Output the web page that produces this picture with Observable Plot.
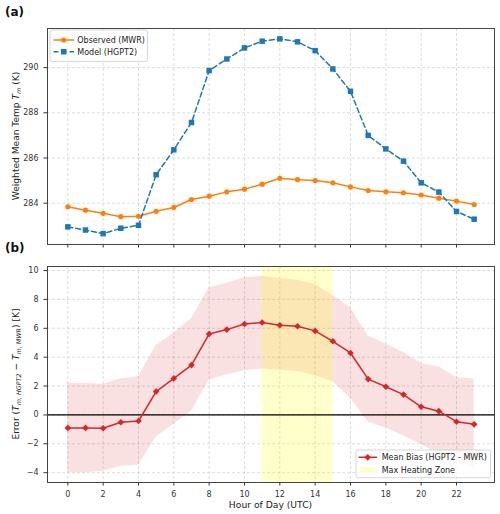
<!DOCTYPE html>
<html>
<head>
<meta charset="utf-8">
<script src="https://cdn.jsdelivr.net/npm/d3@7"></script>
<script src="https://cdn.jsdelivr.net/npm/@observablehq/plot@0.6"></script>
<style>
  html, body { margin: 0; padding: 0; background: #fff; }
  #fig { position: relative; width: 500px; height: 514px; font-family: "DejaVu Sans", sans-serif; }
  #fig svg { position: absolute; left: 0; overflow: visible; }
  .tag { position: absolute; left: 5px; font: bold 12px "DejaVu Sans", sans-serif; color: #111; line-height: 1; }
</style>
</head>
<body>
<div id="fig"></div>
<script>
// Hour of day (UTC)
const hours = [0, 1, 2, 3, 4, 5, 6, 7, 8, 9, 10, 11, 12, 13, 14, 15, 16, 17, 18, 19, 20, 21, 22, 23];

// Weighted mean temperature Tm (K)
const observedMWR = [283.84, 283.69, 283.55, 283.40, 283.42, 283.64, 283.81, 284.16, 284.31, 284.50, 284.62, 284.84,
                     285.10, 285.04, 285.00, 284.90, 284.72, 284.56, 284.50, 284.46, 284.36, 284.22, 284.09, 283.94];
const modelHGPT2 = [282.95, 282.81, 282.65, 282.89, 283.02, 285.26, 286.36, 287.57, 289.87, 290.38, 290.87, 291.17,
                    291.27, 291.14, 290.75, 289.94, 288.95, 287.00, 286.40, 285.86, 284.90, 284.49, 283.63, 283.29];

// Mean bias HGPT2 - MWR (K) and its spread
const meanBias = [-0.90, -0.90, -0.92, -0.51, -0.42, 1.62, 2.53, 3.45, 5.61, 5.91, 6.30, 6.40,
                  6.21, 6.14, 5.82, 5.10, 4.29, 2.48, 1.95, 1.41, 0.56, 0.26, -0.47, -0.65];
const biasUpper = [2.20, 2.17, 2.13, 2.50, 2.64, 4.80, 5.66, 6.66, 8.80, 9.12, 9.50, 9.60,
                   9.43, 9.32, 9.04, 8.28, 7.42, 5.47, 4.92, 4.33, 3.56, 3.34, 2.60, 2.48];
const biasLower = [-4.00, -4.00, -3.90, -3.55, -3.48, -1.53, -0.65, 0.28, 2.41, 2.78, 3.06, 3.18,
                   3.10, 3.01, 2.71, 2.30, 1.15, -0.50, -0.88, -1.46, -2.04, -2.70, -3.30, -3.75];

// Max heating zone (UTC hours)
const heatingZone = [{start: 11, end: 15}];

// Tick values
const xTicks = [0, 2, 4, 6, 8, 10, 12, 14, 16, 18, 20, 22];
const tmTicks = [284, 286, 288, 290];
const errTicks = [-4, -2, 0, 2, 4, 6, 8, 10];

const rows = hours.map((h, i) => ({
  hour: h, obs: observedMWR[i], model: modelHGPT2[i],
  bias: meanBias[i], hi: biasUpper[i], lo: biasLower[i]
}));

const C_OBS = "#ff7f0e", C_MOD = "#1f77b4", C_BIAS = "#d62728";
const gridStyle = {stroke: "#b0b0b0", strokeOpacity: 0.55, strokeDasharray: "3,2", strokeWidth: 0.8};
const baseStyle = {fontFamily: "DejaVu Sans, sans-serif", fontSize: "8px", color: "#333", background: "transparent", overflow: "visible"};
const xDomain = [-1.15, 24.15];

// Panel (a): Tm time series
const topPlot = Plot.plot({
  width: 500, height: 250,
  marginLeft: 47, marginRight: 6, marginTop: 28, marginBottom: 6,
  style: baseStyle,
  x: {domain: xDomain, ticks: xTicks, tickFormat: () => "", tickSize: 3.5, label: null},
  y: {domain: [282.17, 291.73], ticks: tmTicks, tickSize: 3.5, label: null},
  marks: [
    Plot.ruleX(xTicks, gridStyle),
    Plot.ruleY(tmTicks, gridStyle),
    Plot.line(rows, {x: "hour", y: "obs", stroke: C_OBS, strokeWidth: 1.5}),
    Plot.dot(rows, {x: "hour", y: "obs", fill: C_OBS, r: 2.6}),
    Plot.line(rows, {x: "hour", y: "model", stroke: C_MOD, strokeWidth: 1.5, strokeDasharray: "5,3"}),
    Plot.dot(rows, {x: "hour", y: "model", symbol: "square", fill: C_MOD, r: 3.1}),
    Plot.frame({stroke: "#444", strokeWidth: 1})
  ]
});

// Panel (b): mean bias with spread and heating zone
const botPlot = Plot.plot({
  width: 500, height: 264,
  marginLeft: 47, marginRight: 6, marginTop: 16, marginBottom: 32,
  style: baseStyle,
  x: {domain: xDomain, ticks: xTicks, tickSize: 3.5, label: null},
  y: {domain: [-4.68, 10.28], ticks: errTicks, tickSize: 3.5, label: null},
  marks: [
    Plot.ruleX(xTicks, gridStyle),
    Plot.ruleY(errTicks, gridStyle),
    Plot.areaY(rows, {x: "hour", y1: "lo", y2: "hi", fill: C_BIAS, fillOpacity: 0.14}),
    Plot.rect(heatingZone, {x1: "start", x2: "end", fill: "yellow", fillOpacity: 0.2}),
    Plot.ruleY([0], {stroke: "#000", strokeWidth: 1.2}),
    Plot.line(rows, {x: "hour", y: "bias", stroke: C_BIAS, strokeWidth: 1.5}),
    Plot.dot(rows, {x: "hour", y: "bias", symbol: "diamond2", fill: C_BIAS, r: 3.0}),
    Plot.frame({stroke: "#444", strokeWidth: 1})
  ]
});

const fig = document.getElementById("fig");
topPlot.style.top = "0px";
botPlot.style.top = "250px";
fig.appendChild(topPlot);
fig.appendChild(botPlot);

// Panel tags
for (const [t, y] of [["(a)", 6], ["(b)", 242]]) {
  const d = document.createElement("div");
  d.className = "tag"; d.textContent = t; d.style.top = y + "px";
  fig.appendChild(d);
}

// Rotated y-axis titles with italic math subscripts
function yTitle(svg, cy, parts) {
  const t = d3.select(svg).append("text")
    .attr("transform", `translate(19,${cy}) rotate(-90)`)
    .attr("text-anchor", "middle")
    .attr("font-family", "DejaVu Sans, sans-serif")
    .attr("font-size", 9.1).attr("fill", "#222");
  for (const p of parts) {
    const s = t.append("tspan").text(p.text);
    if (p.italic) s.attr("font-style", "italic");
    if (p.sub) s.attr("font-size", 6.4).attr("dy", 2.2);
    if (p.reset) s.attr("dy", -2.2);
  }
}
yTitle(topPlot, 136, [
  {text: "Weighted Mean Temp "}, {text: "T", italic: true},
  {text: "m", italic: true, sub: true}, {text: " (K)", reset: true}
]);
yTitle(botPlot, 124, [
  {text: "Error ("}, {text: "T", italic: true},
  {text: "m, HGPT2", italic: true, sub: true},
  {text: " − ", reset: true}, {text: "T", italic: true},
  {text: "m, MWR", italic: true, sub: true}, {text: ") [K]", reset: true}
]);

// x-axis title
d3.select(botPlot).append("text")
  .attr("x", 270.5).attr("y", 257.5)
  .attr("text-anchor", "middle")
  .attr("font-family", "DejaVu Sans, sans-serif")
  .attr("font-size", 9.2).attr("fill", "#222")
  .text("Hour of Day (UTC)");

// Legends
function legendBox(svg, x, y, w, h) {
  return d3.select(svg).append("g").attr("text-anchor", "start").call(g => g.append("rect")
    .attr("x", x).attr("y", y).attr("width", w).attr("height", h).attr("rx", 2)
    .attr("fill", "#fff").attr("fill-opacity", 0.8)
    .attr("stroke", "#cccccc").attr("stroke-width", 0.8));
}
function legendText(g, x, y, s) {
  g.append("text").attr("x", x).attr("y", y + 2.9).attr("text-anchor", "start")
    .attr("font-family", "DejaVu Sans, sans-serif").attr("font-size", 8).attr("fill", "#222").text(s);
}

const lg1 = legendBox(topPlot, 50, 30, 97.5, 31.5);
lg1.append("line").attr("x1", 53.5).attr("x2", 74).attr("y1", 40).attr("y2", 40)
  .attr("stroke", C_OBS).attr("stroke-width", 1.5);
lg1.append("circle").attr("cx", 63.7).attr("cy", 40).attr("r", 2.6).attr("fill", C_OBS);
legendText(lg1, 77.3, 40, "Observed (MWR)");
lg1.append("line").attr("x1", 53.5).attr("x2", 74).attr("y1", 51.7).attr("y2", 51.7)
  .attr("stroke", C_MOD).attr("stroke-width", 1.5).attr("stroke-dasharray", "5,3");
lg1.append("rect").attr("x", 60.9).attr("y", 48.9).attr("width", 5.6).attr("height", 5.6).attr("fill", C_MOD);
legendText(lg1, 77.3, 51.7, "Model (HGPT2)");

const lg2 = legendBox(botPlot, 356, 200, 134.5, 27.7);
lg2.append("line").attr("x1", 358.5).attr("x2", 377).attr("y1", 207.3).attr("y2", 207.3)
  .attr("stroke", C_BIAS).attr("stroke-width", 1.5);
lg2.append("path").attr("d", d3.symbol(d3.symbolDiamond2, 29)())
  .attr("transform", "translate(367.7,207.3)").attr("fill", C_BIAS);
legendText(lg2, 381.7, 207.3, "Mean Bias (HGPT2 - MWR)");
lg2.append("rect").attr("x", 359.3).attr("y", 216.8).attr("width", 16).attr("height", 5.6)
  .attr("fill", "yellow").attr("fill-opacity", 0.2);
legendText(lg2, 381.7, 219.6, "Max Heating Zone");
</script>
</body>
</html>
